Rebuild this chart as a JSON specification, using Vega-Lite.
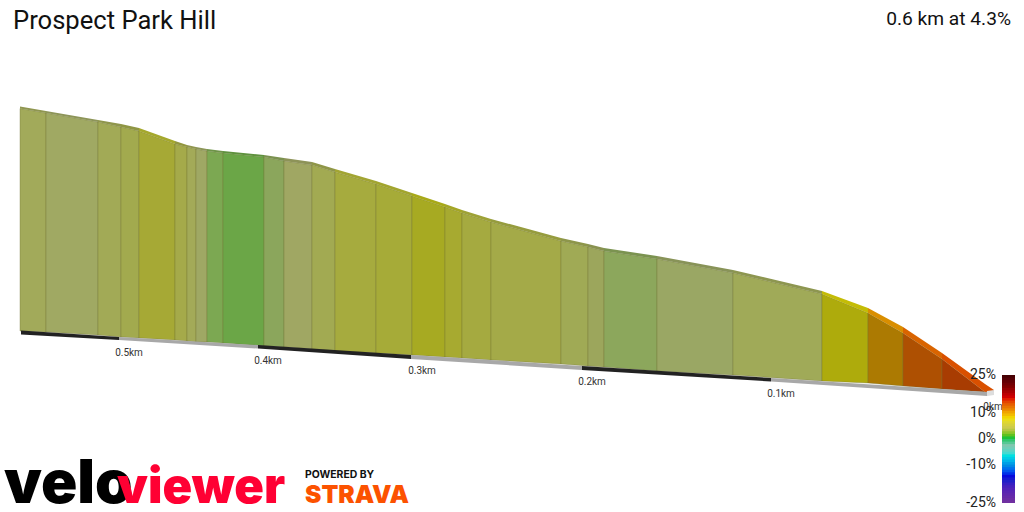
{
  "$schema": "https://vega.github.io/schema/vega-lite/v6.json",
  "width": 1024,
  "height": 512,
  "padding": 0,
  "autosize": {"type": "none"},
  "background": "white",
  "config": {"view": {"stroke": null}, "font": "Roboto"},
  "datasets": {
    "faces": [
      {"seg": "s01", "across": 20, "back": 106.5, "top": 108.5, "bottom": 331},
      {"seg": "s01", "across": 46, "back": 111, "top": 113, "bottom": 332},
      {"seg": "s02", "across": 46, "back": 111, "top": 113, "bottom": 332},
      {"seg": "s02", "across": 98, "back": 120, "top": 122, "bottom": 335},
      {"seg": "s03", "across": 98, "back": 120, "top": 122, "bottom": 335},
      {"seg": "s03", "across": 121, "back": 124, "top": 127, "bottom": 337},
      {"seg": "s04", "across": 121, "back": 124, "top": 127, "bottom": 337},
      {"seg": "s04", "across": 139, "back": 128, "top": 131, "bottom": 338},
      {"seg": "s05", "across": 139, "back": 128, "top": 131, "bottom": 338},
      {"seg": "s05", "across": 175, "back": 141, "top": 144, "bottom": 340},
      {"seg": "s06", "across": 175, "back": 141, "top": 144, "bottom": 340},
      {"seg": "s06", "across": 187, "back": 145, "top": 147, "bottom": 341},
      {"seg": "s07", "across": 187, "back": 145, "top": 147, "bottom": 341},
      {"seg": "s07", "across": 196, "back": 147, "top": 149, "bottom": 342},
      {"seg": "s08", "across": 196, "back": 147, "top": 149, "bottom": 342},
      {"seg": "s08", "across": 207, "back": 149, "top": 151, "bottom": 342},
      {"seg": "s09", "across": 207, "back": 149, "top": 151, "bottom": 342},
      {"seg": "s09", "across": 223, "back": 151, "top": 153, "bottom": 343},
      {"seg": "s10", "across": 223, "back": 151, "top": 153, "bottom": 343},
      {"seg": "s10", "across": 264, "back": 155, "top": 157, "bottom": 346},
      {"seg": "s11", "across": 264, "back": 155, "top": 157, "bottom": 346},
      {"seg": "s11", "across": 284, "back": 158, "top": 161, "bottom": 347},
      {"seg": "s12", "across": 284, "back": 158, "top": 161, "bottom": 347},
      {"seg": "s12", "across": 312, "back": 162, "top": 165, "bottom": 349},
      {"seg": "s13", "across": 312, "back": 162, "top": 165, "bottom": 349},
      {"seg": "s13", "across": 335, "back": 169, "top": 172, "bottom": 351},
      {"seg": "s14", "across": 335, "back": 169, "top": 172, "bottom": 351},
      {"seg": "s14", "across": 376, "back": 181, "top": 184, "bottom": 353},
      {"seg": "s15", "across": 376, "back": 181, "top": 184, "bottom": 353},
      {"seg": "s15", "across": 412, "back": 193, "top": 196, "bottom": 355},
      {"seg": "s16", "across": 412, "back": 193, "top": 196, "bottom": 355},
      {"seg": "s16", "across": 445, "back": 204, "top": 207, "bottom": 357},
      {"seg": "s17", "across": 445, "back": 204, "top": 207, "bottom": 357},
      {"seg": "s17", "across": 462, "back": 210, "top": 213, "bottom": 358},
      {"seg": "s18", "across": 462, "back": 210, "top": 213, "bottom": 358},
      {"seg": "s18", "across": 491, "back": 219, "top": 222, "bottom": 360},
      {"seg": "s19", "across": 491, "back": 219, "top": 222, "bottom": 360},
      {"seg": "s19", "across": 561, "back": 238, "top": 241, "bottom": 364},
      {"seg": "s20", "across": 561, "back": 238, "top": 241, "bottom": 364},
      {"seg": "s20", "across": 588, "back": 244, "top": 247, "bottom": 366},
      {"seg": "s21", "across": 588, "back": 244, "top": 247, "bottom": 366},
      {"seg": "s21", "across": 604, "back": 248, "top": 251, "bottom": 367},
      {"seg": "s22", "across": 604, "back": 248, "top": 251, "bottom": 367},
      {"seg": "s22", "across": 657, "back": 256, "top": 259, "bottom": 371},
      {"seg": "s23", "across": 657, "back": 256, "top": 259, "bottom": 371},
      {"seg": "s23", "across": 733, "back": 270, "top": 273, "bottom": 375},
      {"seg": "s24", "across": 733, "back": 270, "top": 273, "bottom": 375},
      {"seg": "s24", "across": 822, "back": 291, "top": 294, "bottom": 381},
      {"seg": "s25", "across": 822, "back": 291, "top": 294, "bottom": 381},
      {"seg": "s25", "across": 868, "back": 308, "top": 313, "bottom": 383},
      {"seg": "s26", "across": 868, "back": 308, "top": 313, "bottom": 383},
      {"seg": "s26", "across": 903, "back": 327, "top": 333, "bottom": 386},
      {"seg": "s27", "across": 903, "back": 327, "top": 333, "bottom": 386},
      {"seg": "s27", "across": 942, "back": 353, "top": 359, "bottom": 389},
      {"seg": "s28", "across": 942, "back": 353, "top": 359, "bottom": 389},
      {"seg": "s28", "across": 985, "back": 384, "top": 392, "bottom": 392},
      {"seg": "s28", "across": 994, "back": 390, "top": 391, "bottom": 391}
    ],
    "road": [
      {"band": "a", "tone": "dark", "across": 21, "top": 330.5, "bottom": 334.5},
      {"band": "a", "tone": "dark", "across": 119, "top": 337, "bottom": 340},
      {"band": "b", "tone": "light", "across": 119, "top": 337, "bottom": 340},
      {"band": "b", "tone": "light", "across": 258, "top": 345, "bottom": 348.5},
      {"band": "c", "tone": "dark", "across": 258, "top": 345, "bottom": 348.5},
      {"band": "c", "tone": "dark", "across": 411, "top": 355, "bottom": 359},
      {"band": "d", "tone": "light", "across": 411, "top": 355, "bottom": 359},
      {"band": "d", "tone": "light", "across": 582, "top": 366, "bottom": 370},
      {"band": "e", "tone": "dark", "across": 582, "top": 366, "bottom": 370},
      {"band": "e", "tone": "dark", "across": 771, "top": 378, "bottom": 381.5},
      {"band": "f", "tone": "light", "across": 771, "top": 378, "bottom": 381.5},
      {"band": "f", "tone": "light", "across": 987, "top": 392, "bottom": 396},
      {"band": "g", "tone": "end", "across": 987, "top": 391, "bottom": 396},
      {"band": "g", "tone": "end", "across": 994, "top": 390, "bottom": 395}
    ],
    "ticks": [
      {"label": "0.5km", "across": 129, "top": 356},
      {"label": "0.4km", "across": 268, "top": 364},
      {"label": "0.3km", "across": 422, "top": 374},
      {"label": "0.2km", "across": 592, "top": 385},
      {"label": "0.1km", "across": 781, "top": 397},
      {"label": "0km", "across": 993, "top": 410}
    ],
    "bar": [
      {"grade": -25, "upper": -23.5}, {"grade": -24, "upper": -22.5}, {"grade": -23, "upper": -21.5}, {"grade": -22, "upper": -20.5}, {"grade": -21, "upper": -19.5},
      {"grade": -20, "upper": -18.5}, {"grade": -19, "upper": -17.5}, {"grade": -18, "upper": -16.5}, {"grade": -17, "upper": -15.5}, {"grade": -16, "upper": -14.5},
      {"grade": -15, "upper": -13.5}, {"grade": -14, "upper": -12.5}, {"grade": -13, "upper": -11.5}, {"grade": -12, "upper": -10.5}, {"grade": -11, "upper": -9.5},
      {"grade": -10, "upper": -8.5}, {"grade": -9, "upper": -7.5}, {"grade": -8, "upper": -6.5}, {"grade": -7, "upper": -5.5}, {"grade": -6, "upper": -4.5},
      {"grade": -5, "upper": -3.5}, {"grade": -4, "upper": -2.5}, {"grade": -3, "upper": -1.5}, {"grade": -2, "upper": -0.5}, {"grade": -1, "upper": 0.5},
      {"grade": 0, "upper": 1.5}, {"grade": 1, "upper": 2.5}, {"grade": 2, "upper": 3.5}, {"grade": 3, "upper": 4.5}, {"grade": 4, "upper": 5.5},
      {"grade": 5, "upper": 6.5}, {"grade": 6, "upper": 7.5}, {"grade": 7, "upper": 8.5}, {"grade": 8, "upper": 9.5}, {"grade": 9, "upper": 10.5},
      {"grade": 10, "upper": 11.5}, {"grade": 11, "upper": 12.5}, {"grade": 12, "upper": 13.5}, {"grade": 13, "upper": 14.5}, {"grade": 14, "upper": 15.5},
      {"grade": 15, "upper": 16.5}, {"grade": 16, "upper": 17.5}, {"grade": 17, "upper": 18.5}, {"grade": 18, "upper": 19.5}, {"grade": 19, "upper": 20.5},
      {"grade": 20, "upper": 21.5}, {"grade": 21, "upper": 22.5}, {"grade": 22, "upper": 23.5}, {"grade": 23, "upper": 24.5}, {"grade": 24, "upper": 25}
    ],
    "barLabels": [
      {"grade": 25, "label": "25%"},
      {"grade": 10, "label": "10%"},
      {"grade": 0, "label": "0%"},
      {"grade": -10, "label": "-10%"},
      {"grade": -25, "label": "-25%"}
    ]
  },
  "layer": [
    {
      "data": {"name": "faces"},
      "mark": {"type": "area", "stroke": "#6f7034", "strokeWidth": 0.8, "strokeOpacity": 0.45},
      "encoding": {
        "x": {"field": "across", "type": "quantitative", "axis": null, "scale": {"domain": [0, 1024], "nice": false, "zero": false}},
        "y": {"field": "top", "type": "quantitative", "axis": null, "scale": {"domain": [512, 0], "nice": false, "zero": false}},
        "y2": {"field": "bottom"},
        "detail": {"field": "seg"},
        "color": {
          "field": "seg", "type": "nominal", "legend": null,
          "scale": {
            "domain": ["s01","s02","s03","s04","s05","s06","s07","s08","s09","s10","s11","s12","s13","s14","s15","s16","s17","s18","s19","s20","s21","s22","s23","s24","s25","s26","s27","s28"],
            "range": ["#a2aa5a","#a0a963","#a2aa56","#a2aa4e","#a6a935","#a5aa4a","#a3aa58","#9fa864","#7ca852","#6ba647","#8ba65c","#a0a763","#a2aa52","#a6ab3e","#a6ab38","#a7aa22","#a7aa30","#a5aa40","#a4aa48","#a0aa55","#9ca65c","#8ca75c","#9aa764","#a0aa58","#aeab0c","#ac7a02","#ae5002","#a83c02"]
          }
        }
      }
    },
    {
      "data": {"name": "faces"},
      "mark": {"type": "area"},
      "encoding": {
        "x": {"field": "across", "type": "quantitative", "axis": null, "scale": {"domain": [0, 1024], "nice": false, "zero": false}},
        "y": {"field": "back", "type": "quantitative", "axis": null, "scale": {"domain": [512, 0], "nice": false, "zero": false}},
        "y2": {"field": "top"},
        "detail": {"field": "seg"},
        "color": {
          "field": "seg", "type": "nominal", "legend": null,
          "scale": {
            "domain": ["s01","s02","s03","s04","s05","s06","s07","s08","s09","s10","s11","s12","s13","s14","s15","s16","s17","s18","s19","s20","s21","s22","s23","s24","s25","s26","s27","s28"],
            "range": ["#8f9650","#8d9558","#8f964c","#8f9644","#a5a82c","#92963f","#90964e","#8c9558","#6e9448","#5f923e","#7b9250","#8d9358","#8f9648","#a2a533","#a2a52e","#a8a918","#a4a626","#9ea236","#969c3e","#8d964a","#899250","#7b9350","#889358","#8d9650","#c4bc06","#d98e00","#d96400","#d95000"]
          }
        }
      }
    },
    {
      "data": {"name": "road"},
      "mark": {"type": "area"},
      "encoding": {
        "x": {"field": "across", "type": "quantitative", "axis": null, "scale": {"domain": [0, 1024], "nice": false, "zero": false}},
        "y": {"field": "top", "type": "quantitative", "axis": null, "scale": {"domain": [512, 0], "nice": false, "zero": false}},
        "y2": {"field": "bottom"},
        "detail": {"field": "band"},
        "color": {
          "field": "tone", "type": "nominal", "legend": null,
          "scale": {"domain": ["dark", "light", "end"], "range": ["#222222", "#a8a8a8", "#dddddd"]}
        }
      }
    },
    {
      "data": {"name": "ticks"},
      "mark": {"type": "text", "font": "Roboto", "fontSize": 10, "color": "#333333", "align": "center", "baseline": "alphabetic"},
      "encoding": {
        "x": {"field": "across", "type": "quantitative", "axis": null, "scale": {"domain": [0, 1024], "nice": false, "zero": false}},
        "y": {"field": "top", "type": "quantitative", "axis": null, "scale": {"domain": [512, 0], "nice": false, "zero": false}},
        "text": {"field": "label"}
      }
    },
    {
      "data": {"values": [{"label": "Prospect Park Hill", "across": 13, "top": 29}]},
      "mark": {"type": "text", "font": "Roboto", "fontSize": 25.6, "color": "#111111", "align": "left", "baseline": "alphabetic"},
      "encoding": {
        "x": {"field": "across", "type": "quantitative", "axis": null, "scale": {"domain": [0, 1024], "nice": false, "zero": false}},
        "y": {"field": "top", "type": "quantitative", "axis": null, "scale": {"domain": [512, 0], "nice": false, "zero": false}},
        "text": {"field": "label"}
      }
    },
    {
      "data": {"values": [{"label": "0.6 km at 4.3%", "across": 1011, "top": 25}]},
      "mark": {"type": "text", "font": "Roboto", "fontSize": 19.2, "color": "#111111", "align": "right", "baseline": "alphabetic"},
      "encoding": {
        "x": {"field": "across", "type": "quantitative", "axis": null, "scale": {"domain": [0, 1024], "nice": false, "zero": false}},
        "y": {"field": "top", "type": "quantitative", "axis": null, "scale": {"domain": [512, 0], "nice": false, "zero": false}},
        "text": {"field": "label"}
      }
    },
    {
      "data": {"values": [{"label": "velo", "across": 4, "top": 503}]},
      "mark": {"type": "text", "font": "Inter", "fontWeight": 900, "fontSize": 60, "color": "#000000", "align": "left", "baseline": "alphabetic"},
      "encoding": {
        "x": {"field": "across", "type": "quantitative", "axis": null, "scale": {"domain": [0, 1024], "nice": false, "zero": false}},
        "y": {"field": "top", "type": "quantitative", "axis": null, "scale": {"domain": [512, 0], "nice": false, "zero": false}},
        "text": {"field": "label"}
      }
    },
    {
      "data": {"values": [{"label": "viewer", "across": 117, "top": 503}]},
      "mark": {"type": "text", "font": "Inter", "fontWeight": 900, "fontSize": 49, "color": "#ff0033", "align": "left", "baseline": "alphabetic"},
      "encoding": {
        "x": {"field": "across", "type": "quantitative", "axis": null, "scale": {"domain": [0, 1024], "nice": false, "zero": false}},
        "y": {"field": "top", "type": "quantitative", "axis": null, "scale": {"domain": [512, 0], "nice": false, "zero": false}},
        "text": {"field": "label"}
      }
    },
    {
      "data": {"values": [{"label": "POWERED BY", "across": 305, "top": 477.5}]},
      "mark": {"type": "text", "font": "Inter", "fontWeight": 700, "fontSize": 10.4, "color": "#111111", "align": "left", "baseline": "alphabetic"},
      "encoding": {
        "x": {"field": "across", "type": "quantitative", "axis": null, "scale": {"domain": [0, 1024], "nice": false, "zero": false}},
        "y": {"field": "top", "type": "quantitative", "axis": null, "scale": {"domain": [512, 0], "nice": false, "zero": false}},
        "text": {"field": "label"}
      }
    },
    {
      "data": {"values": [{"label": "STRAVA", "across": 305, "top": 503}]},
      "mark": {"type": "text", "font": "Inter", "fontWeight": 900, "fontSize": 24.6, "color": "#fc5200", "align": "left", "baseline": "alphabetic"},
      "encoding": {
        "x": {"field": "across", "type": "quantitative", "axis": null, "scale": {"domain": [0, 1024], "nice": false, "zero": false}},
        "y": {"field": "top", "type": "quantitative", "axis": null, "scale": {"domain": [512, 0], "nice": false, "zero": false}},
        "text": {"field": "label"}
      }
    },
    {
      "data": {"name": "bar"},
      "mark": {"type": "rect"},
      "encoding": {
        "x": {"datum": 1002, "type": "quantitative", "axis": null, "scale": {"domain": [0, 1024], "nice": false, "zero": false}},
        "x2": {"datum": 1015},
        "y": {"field": "grade", "type": "quantitative", "axis": null, "scale": {"domain": [-25, 25], "range": [503, 375], "nice": false, "zero": false}},
        "y2": {"field": "upper"},
        "color": {
          "field": "grade", "type": "quantitative", "legend": null,
          "scale": {
            "domain": [-25, -17, -14.6, -10.7, -7, -3, 0.3, 3.6, 7.5, 11.4, 15.3, 20, 25],
            "range": ["#7030a0", "#2020c8", "#0000e0", "#0090e0", "#00e0e0", "#80c8b0", "#20c020", "#c8c850", "#f0e000", "#e98000", "#e00000", "#800000", "#380000"]
          }
        }
      }
    },
    {
      "data": {"name": "barLabels"},
      "mark": {"type": "text", "font": "Roboto", "fontSize": 14, "color": "#222222", "align": "right", "baseline": "middle"},
      "encoding": {
        "x": {"datum": 996, "type": "quantitative", "axis": null, "scale": {"domain": [0, 1024], "nice": false, "zero": false}},
        "y": {"field": "grade", "type": "quantitative", "axis": null, "scale": {"domain": [-25, 25], "range": [503, 375], "nice": false, "zero": false}},
        "text": {"field": "label"}
      }
    }
  ],
  "resolve": {"scale": {"color": "independent", "y": "independent"}}
}
